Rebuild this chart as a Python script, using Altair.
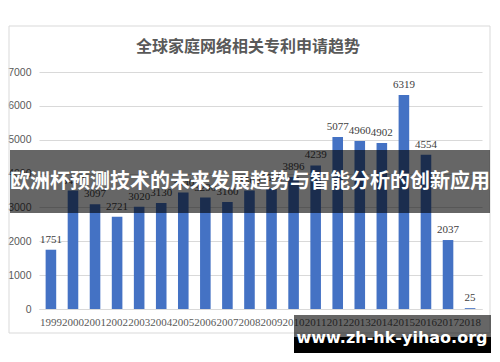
import altair as alt
import pandas as pd

years = [str(y) for y in range(1999, 2019)]
values = [1751, 3497, 3097, 2721, 3020, 3130, 3440, 3290, 3160, 3500,
          3560, 3896, 4239, 5077, 4960, 4902, 6319, 4554, 2037, 25]
y_ticks = [0, 1000, 2000, 3000, 4000, 5000, 6000, 7000]

title_text = "全球家庭网络相关专利申请趋势"
banner_text = "欧洲杯预测技术的未来发展趋势与智能分析的创新应用"
watermark_text = "www.zh-hk-yihao.org"

df = pd.DataFrame({"year": years, "value": values})
one = pd.DataFrame({"k": [0]})

W, H = 443, 237

x_axis = alt.Axis(title=None, labelAngle=0, labelOverlap=False,
                  labelFont="Liberation Serif", labelFontSize=11,
                  labelColor="#595959", ticks=False,
                  domainColor="#d9d9d9", labelPadding=7)
y_axis = alt.Axis(title=None, values=y_ticks, format="d",
                  labelOverlap=False, gridColor="#d9d9d9",
                  domain=False, ticks=False, labelFont="Liberation Sans",
                  labelFontSize=10.5, labelColor="#595959",
                  labelPadding=8)
x_enc = alt.X("year:N", sort=years,
              scale=alt.Scale(paddingInner=0.52, paddingOuter=0.3),
              axis=x_axis)
y_enc = alt.Y("value:Q", scale=alt.Scale(domain=[0, 7000], nice=False),
              axis=y_axis)

base = alt.Chart(df)

bars = base.mark_bar(color="#4472C4").encode(x=x_enc, y=y_enc)

labels = base.mark_text(font="Liberation Serif", fontSize=11, color="#404040",
                        baseline="bottom", dy=-5).encode(
    x=x_enc, y=y_enc,
    text=alt.Text("value:Q", format="d"),
)

border = alt.Chart(one).mark_rect(fill="transparent", stroke="#d9d9d9",
                                  strokeWidth=1).encode(
    x=alt.value(-30), x2=alt.value(451), y=alt.value(-46), y2=alt.value(261))

title = alt.Chart(one).mark_text(text=title_text, font="Noto Sans CJK SC",
                                 fontSize=16, fontWeight="bold",
                                 color="#595959").encode(
    x=alt.value(209), y=alt.value(-25))

banner = alt.Chart(one).mark_rect(color="black", opacity=0.6).encode(
    x=alt.value(-29), x2=alt.value(451), y=alt.value(78), y2=alt.value(141))

banner_t = alt.Chart(one).mark_text(text=banner_text, font="Noto Sans CJK SC",
                                    fontSize=20, fontWeight="bold",
                                    color="white").encode(
    x=alt.value(211), y=alt.value(110))

wm1 = alt.Chart(one).mark_rect(color="black", opacity=0.6).encode(
    x=alt.value(255), x2=alt.value(452), y=alt.value(243), y2=alt.value(265))
wm2 = alt.Chart(one).mark_rect(color="black", opacity=1).encode(
    x=alt.value(255), x2=alt.value(452), y=alt.value(265), y2=alt.value(281))
wm_t = alt.Chart(one).mark_text(text=watermark_text, font="DejaVu Sans",
                                fontSize=16, fontWeight="bold",
                                color="white").encode(
    x=alt.value(353), y=alt.value(266))

chart = alt.layer(border, bars, labels, title, banner, banner_t, wm1, wm2, wm_t).properties(
    width=W, height=H,
    autosize=alt.AutoSizeParams(type="none"),
    padding={"left": 31, "top": 64, "right": 10, "bottom": 45},
).configure_view(stroke=None)

chart.save("out.html", embed_options={"renderer": "svg", "actions": False})
